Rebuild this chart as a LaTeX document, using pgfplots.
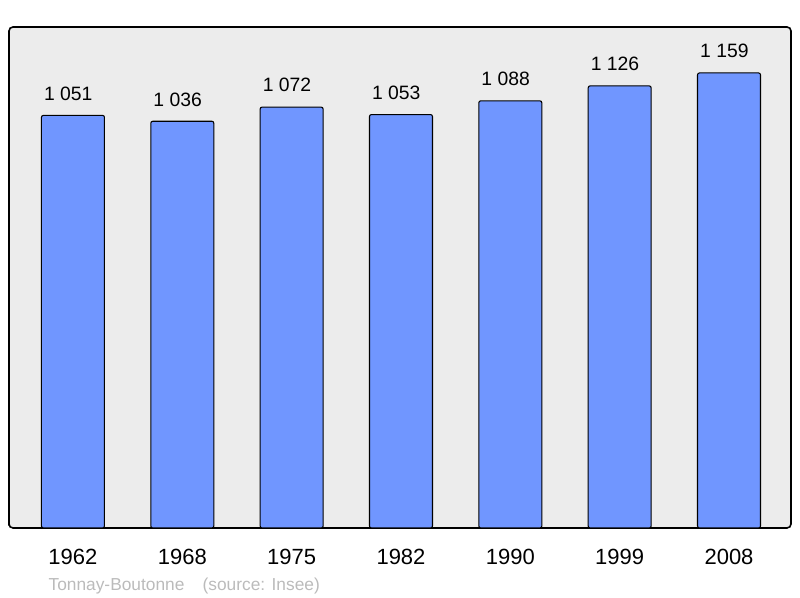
\documentclass[border=0pt]{standalone}
\usepackage{pgfplots}
\pgfplotsset{compat=1.18}
\usepackage{fontspec}
\setmainfont{Liberation Sans}
\definecolor{barblue}{RGB}{112,150,255}
\definecolor{bggray}{RGB}{236,236,236}
\definecolor{srcgray}{RGB}{187,187,187}
\begin{document}
\begin{tikzpicture}
\begin{axis}[
  name=ax,
  scale only axis,
  width=586.5pt, height=375.75pt,
  xmin=-0.585, xmax=6.567,
  ymin=0, ymax=1276,
  axis background/.style={fill=bggray},
  axis line style={line width=1.2pt, rounded corners=3pt},
  ytick=\empty,
  xtick=data,
  xticklabels={1962,1968,1975,1982,1990,1999,2008},
  x tick label style={font=\fontsize{16.5}{18}\selectfont, yshift=-12pt},
  major tick length=0pt,
  ybar, bar width=47.25pt,
  bar shift=0pt,
  nodes near coords={\pgfmathprintnumber[1000 sep={\ }]{\pgfplotspointmeta}},
  nodes near coords style={font=\fontsize{14.5}{16}\selectfont, anchor=south, yshift=7.5pt, xshift=-3.5pt},
  /pgf/number format/assume math mode=true,
  clip=false,
]
\addplot[fill=barblue, draw=black, line width=0.8pt, rounded corners=1.5pt] coordinates {
 (0,1051) (1,1036) (2,1072) (3,1053) (4,1088) (5,1126) (6,1159)
};
\end{axis}
\node[anchor=west, text=srcgray, font=\fontsize{13}{15}\selectfont, inner sep=0pt] at ([xshift=29.5pt,yshift=-43.5pt]ax.south west) {Tonnay-Boutonne\hspace{1.05em}(source: Insee)};
\pgfresetboundingbox
\path[use as bounding box] ([xshift=-6.75pt,yshift=-52.5pt]ax.south west) rectangle ([xshift=6.75pt,yshift=20.25pt]ax.north east);
\end{tikzpicture}
\end{document}
